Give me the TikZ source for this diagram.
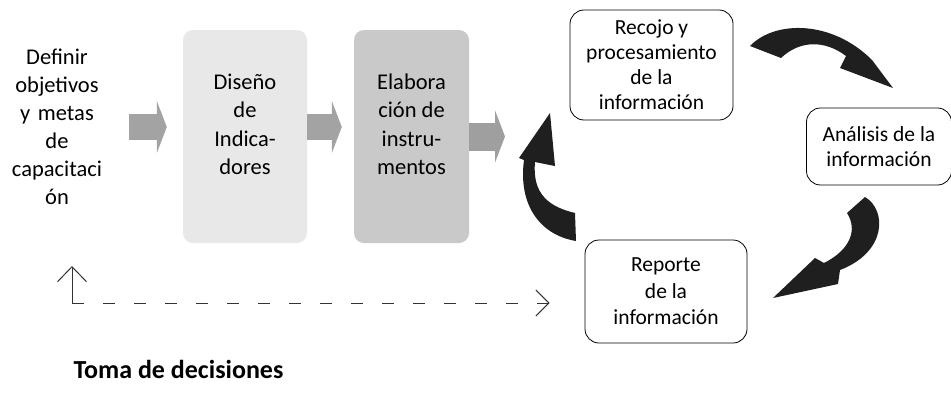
\documentclass[tikz,border=0pt]{standalone}
\usepackage{fontspec}
\setmainfont{Carlito}
\usetikzlibrary{arrows.meta}

\tikzset{
  bigtext/.style={align=center,inner sep=0pt,font=\fontsize{22.5}{28}\selectfont},
  stepbox/.style={rounded corners=10pt,inner sep=0pt,align=center,
    minimum height=213pt,font=\fontsize{22.5}{28.5}\selectfont},
  cyclebox/.style={draw=black,line width=0.8pt,rounded corners=14pt,inner sep=0pt,
    align=center,font=\fontsize{21.5}{25}\selectfont},
  blockarrow/.style={draw=gray!72,line width=26pt,
    -{Triangle[length=10pt,width=52pt]}},
  cyclearrow/.style={fill=black!88,draw=none},
  dashline/.style={draw=black!80,line width=1pt,dash pattern=on 12pt off 19pt,
    -{Straight Barb[length=13pt,width=26pt]}}
}

\begin{document}
\begin{tikzpicture}[x=1pt,y=-1pt]
  \useasboundingbox (0,0) rectangle (951,399);

  % left text and the two grey steps
  \node (def) at (57,127) [bigtext,text width=98pt]
    {Definir\\objetivos\\y metas\\de\\capacitaci\\ón};
  \node (dis) at (245,136.5) [stepbox,fill=gray!18,minimum width=124pt]
    {Diseño\\de\\Indica-\\dores\\[-4pt]\mbox{}};
  \node (ela) at (411.5,136.5) [stepbox,fill=gray!42,minimum width=115pt]
    {Elabora\\ción de\\instru-\\mentos\\[-4pt]\mbox{}};

  \draw[blockarrow,shorten <=23pt,shorten >=16pt] (def.east) -- (def.east -| dis.west);
  \draw[blockarrow,shorten >=12pt] (dis.east |- def.east) -- (def.east -| ela.west);
  \coordinate (cyc) at (505,136.5);
  \draw[blockarrow,draw=gray!75,line width=28pt] (ela.east) -- (cyc);

  % the cycle
  \node (rec) at (651.5,65) [cyclebox,minimum width=163pt,minimum height=110pt]
    {Recojo y\\procesamiento\\de la\\información};
  \node (ana) at (879,146.5) [cyclebox,minimum width=145pt,minimum height=77pt]
    {Análisis de la\\información};
  \node (rep) at (666,291.5) [cyclebox,minimum width=162pt,minimum height=103pt,
    font=\fontsize{21.5}{26.5}\selectfont]
    {Reporte\\de la\\información};

  \fill[cyclearrow] (750,46) .. controls (775,20) and (832,20) .. (872,60)
    -- (893,88) -- (840,68) -- (846,56) .. controls (825,40) and (800,40) .. (781,58) -- cycle;
  \fill[cyclearrow] (865,197) .. controls (887,210) and (887,252) .. (840,270)
    -- (838,284) -- (773,298) -- (815,258) -- (824,263)
    .. controls (850,250) and (858,230) .. (847,213) -- cycle;
  \fill[cyclearrow] (575,213) .. controls (550,207) and (532,195) .. (535,162)
    -- (555,166) -- (550,113) -- (519,158) -- (524,160)
    .. controls (518,205) and (540,235) .. (576,241) -- cycle;

  % feedback
  \coordinate (dcorner) at (72,303);
  \coordinate (dtop) at (72,266);
  \draw[dashline,shorten >=35pt] (dcorner) -- (dcorner -| rep.west);
  \draw[draw=black!80,line width=1pt,-{Straight Barb[length=15pt,width=29pt]}] (dcorner) -- (dtop);

  \node (toma) at (178.5,369) [inner sep=0pt,font=\fontsize{26}{30}\selectfont\bfseries]
    {Toma de decisiones};

\end{tikzpicture}
\end{document}
